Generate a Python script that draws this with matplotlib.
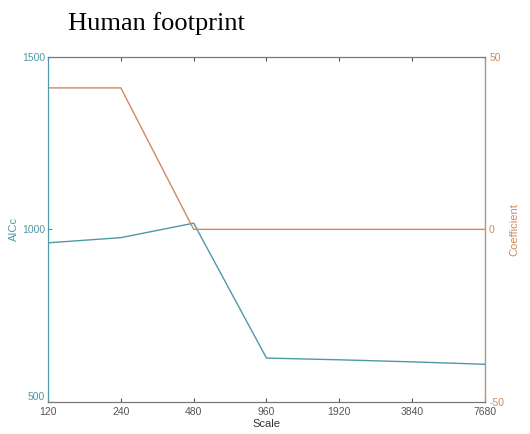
import numpy as np
import matplotlib
matplotlib.use("Agg")
from matplotlib import pyplot as plt

scales = ["120", "240", "480", "960", "1920", "3840", "7680"]
aicc = [961, 976, 1018, 627, 622, 616, 609]
coef = [41, 41, 0, 0, 0, 0, 0]

blue = "#4f98a8"
orange = "#cf8a5e"
grey = "#555555"

plt.rcParams['font.family'] = ['Liberation Sans', 'DejaVu Sans']
plt.rcParams['axes.unicode_minus'] = False

fig = plt.figure(figsize=(5.3, 4.34), dpi=100)
ax = fig.add_axes([0.0906, 0.074, 0.8244, 0.795])
x = np.arange(len(scales))

ax.plot(x, aicc, color=blue, lw=1.0)
ax.set_xlim(0, len(scales) - 1)
ax.set_ylim(500, 1500)
ax.set_yticks([500, 1000, 1500])
ax.set_xticks(x)
ax.set_xticklabels(scales)
ax.set_xlabel("Scale", fontsize=8, color="#333333", labelpad=1)
ax.set_ylabel("AICc", fontsize=8, color=blue, labelpad=2)
ax.tick_params(axis="x", direction="in", top=True, length=3, labelsize=7.5, colors=grey, pad=4)
ax.tick_params(axis="y", direction="in", length=3, labelsize=7.5, colors=blue, pad=2)
for s in ["top", "bottom"]:
    ax.spines[s].set_color("#777777")
ax.spines["left"].set_color(blue)
# bottom left label sits just above the axis line
ax.get_yticklabels()[0].set_va("bottom")

ax2 = ax.twinx()
ax2.plot(x, coef, color=orange, lw=1.0)
ax2.set_ylim(-50, 50)
ax2.set_yticks([-50, 0, 50])
ax2.set_ylabel("Coefficient", fontsize=8, color=orange, labelpad=4)
ax2.tick_params(axis="y", direction="in", length=3, labelsize=7.5, colors=orange, pad=3)
ax2.spines["right"].set_color(orange)
ax2.spines["left"].set_color(blue)
ax2.spines["top"].set_color("#777777")
ax2.spines["bottom"].set_color("#777777")

fig.text(0.128, 0.945, "Human footprint", family="Liberation Serif", fontsize=19, va="center", ha="left")

fig.savefig("out.png", dpi=100)
